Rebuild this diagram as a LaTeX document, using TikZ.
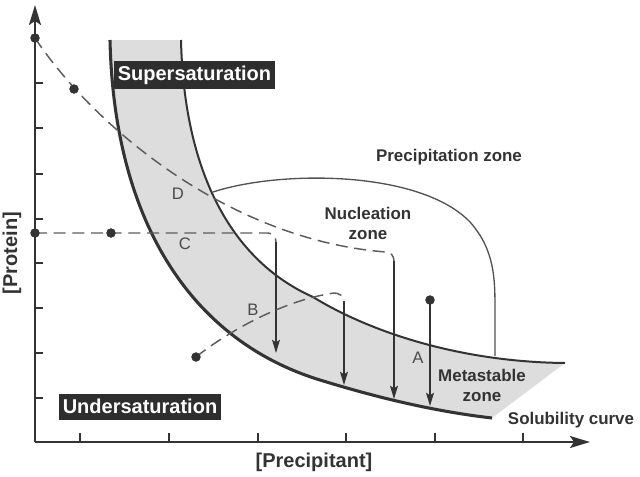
\documentclass[tikz,border=0pt]{standalone}
\usepackage{fontspec}
\setmainfont{Liberation Sans}
\usetikzlibrary{arrows.meta}
\definecolor{ink}{HTML}{333333}
\definecolor{band}{HTML}{DDDDDD}
\definecolor{letter}{HTML}{4A4A4A}
\begin{document}
\begin{tikzpicture}[x=0.75pt,y=-0.75pt,
  axis/.style={draw=ink,line width=1.5pt,-{Stealth[length=15pt,width=9pt,inset=3pt]}},
  tick/.style={draw=ink,line width=1pt},
  solcurve/.style={draw=ink,line width=2.3pt},
  supcurve/.style={draw=ink,line width=1.5pt},
  zoneline/.style={draw=ink!85,line width=1pt},
  dashline/.style={draw=ink!80,line width=1.1pt,dash pattern=on 9pt off 5pt},
  arr/.style={draw=ink,line width=1.1pt,-{Stealth[length=10pt,width=6pt,inset=2pt]}},
  dot/.style={circle,fill=ink,inner sep=0pt,minimum size=7pt},
  blackbox/.style={fill=ink!90!black,text=white,font=\fontsize{15}{18}\selectfont\bfseries,inner xsep=3pt,minimum height=19.5pt},
  lab/.style={text=ink,font=\fontsize{12.7}{15}\selectfont\bfseries,align=center},
  axlab/.style={text=ink,font=\fontsize{15}{18}\selectfont\bfseries},
  letterlab/.style={text=letter,font=\fontsize{12.5}{15}\selectfont}
]
\useasboundingbox (0,0) rectangle (640,476);

% key points of the curves
\coordinate (s0) at (110,40);
\coordinate (s1) at (320,380);
\coordinate (s2) at (492,418);
\coordinate (u0) at (181,40);
\coordinate (u1) at (313,297);
\coordinate (u2) at (565,363);

% grey band
\fill[band] (s0) .. controls (114,220) and (190,340) .. (s1)
  .. controls (385,400) and (440,412) .. (s2)
  -- (u2) .. controls (460,362) and (370,332) .. (u1)
  .. controls (230,260) and (184,170) .. (u0) -- cycle;

% curves
\draw[solcurve] (s0) .. controls (114,220) and (190,340) .. (s1)
  .. controls (385,400) and (440,412) .. (s2);
\draw[supcurve] (u0) .. controls (184,170) and (230,260) .. (u1)
  .. controls (370,332) and (460,362) .. (u2);

% precipitation zone boundary
\coordinate (p0) at (213,192);
\coordinate (p1) at (495,356);
\draw[zoneline] (p0) .. controls (280,170) and (420,170) .. (470,222)
  .. controls (495,250) and (495,280) .. (495,310) -- (p1);

% axes
\coordinate (O) at (35,442);
\coordinate (ytip) at (35,5);
\coordinate (xtip) at (590,442);
\draw[axis] (O) -- (ytip);
\draw[axis] (O) -- (xtip);
\foreach \y in {83,128,174,219,263,308,353,398} \draw[tick] (35,\y) -- (43,\y);
\foreach \x in {80,169,258,346,435,523} \draw[tick] (\x,442) -- (\x,433);

% dots
\node[dot] (d1) at (35,38) {};
\node[dot] (d2) at (74,89) {};
\node[dot] (d3) at (35,233) {};
\node[dot] (d4) at (111,233) {};
\node[dot] (d5) at (196,357) {};
\node[dot] (d6) at (430,300) {};

% path D
\coordinate (eD) at (386,252);
\coordinate (cD) at (394,261);
\coordinate (tD) at (394,399);
\draw[dashline] (d1.center) .. controls (95,128) and (230,240) .. (eD) to[out=5,in=90] (cD);
\draw[arr] (cD) -- (tD);

% path C
\coordinate (eC) at (268,233);
\coordinate (cC) at (276,242);
\coordinate (tC) at (276,353);
\draw[dashline] (d3.center) -- (eC) to[out=0,in=90] (cC);
\draw[arr] (cC) -- (tC);

% path B
\coordinate (eB) at (334,293);
\coordinate (cB) at (344,301);
\coordinate (tB) at (344,385);
\draw[dashline] (d5.center) .. controls (230,330) and (285,300) .. (eB) to[out=0,in=90] (cB);
\draw[arr] (cB) -- (tB);

% path A
\coordinate (tA) at (430,406);
\draw[arr] (d6.center) -- (tA);

% dots on top
\foreach \n in {d1,d2,d3,d4,d5,d6} \fill[ink] (\n) circle (4.5);

% labels
\node[blackbox] (super) at (194.5,75) {Supersaturation};
\node[blackbox] (under) at (140,406.5) {Undersaturation};
\node[lab] (precip) at (449,157) {Precipitation zone};
\node[lab] (nucl) at (368,223) {Nucleation\\zone};
\node[lab] (meta) at (482,385) {Metastable\\zone};
\node[lab] (solub) at (571,420) {Solubility curve};
\node[axlab] (xlab) at (314,462) {[Precipitant]};
\node[axlab,rotate=90] (ylab) at (12,253) {[Protein]};
\node[letterlab] (lD) at (178,194) {D};
\node[letterlab] (lC) at (185,244) {C};
\node[letterlab] (lB) at (253,310) {B};
\node[letterlab] (lA) at (418,358) {A};
\end{tikzpicture}
\end{document}
